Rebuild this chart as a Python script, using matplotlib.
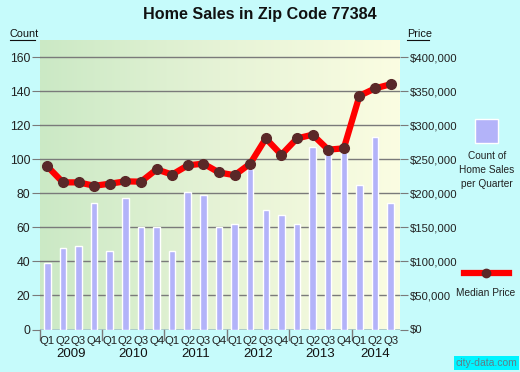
import numpy as np
import matplotlib
matplotlib.use("Agg")
import matplotlib.pyplot as plt
from matplotlib.colors import LinearSegmentedColormap

plt.rcParams['font.family'] = ['Liberation Sans', 'DejaVu Sans']

quarters = ["Q1", "Q2", "Q3", "Q4", "Q1", "Q2", "Q3", "Q4", "Q1", "Q2", "Q3", "Q4",
            "Q1", "Q2", "Q3", "Q4", "Q1", "Q2", "Q3", "Q4", "Q1", "Q2", "Q3"]
years = ["2009", "2010", "2011", "2012", "2013", "2014"]
counts = [39, 48, 49, 74, 46, 77, 60, 60, 46, 81, 79, 60, 62, 94, 70, 67, 62,
          107, 105, 104, 85, 113, 74]
prices = [239500, 216000, 216000, 211000, 214000, 217500, 217000, 235000, 227500,
          241000, 243500, 230500, 226500, 243500, 280500, 256500, 280500, 286000,
          264000, 266000, 343000, 354000, 360000]

BG = "#C6FBFB"
W, H = 520, 372
fig = plt.figure(figsize=(5.2, 3.72), dpi=100, facecolor=BG)
ax = fig.add_axes([40/W, 1 - 329.5/H, 360/W, 289.5/H])
ax.set_facecolor(BG)

n = len(counts)
x = np.arange(n)
xmin, xmax = -0.47, n - 0.4
ymax = 170
ax.set_xlim(xmin, xmax)
ax.set_ylim(0, ymax)

# gradient background
cmap = LinearSegmentedColormap.from_list("g", ["#CBE9C5", "#E6F3D6", "#FBFDE2"])
grad = np.linspace(0, 1, 256).reshape(1, -1)
ax.imshow(grad, extent=[xmin, xmax, 0, ymax], aspect='auto', cmap=cmap, zorder=0)

# grid
for v in range(0, 161, 20):
    ax.axhline(v, color="#7a7a7a", lw=1.0, zorder=1)

ax.bar(x, counts, width=0.42, color="#B3B3F9", edgecolor="white", linewidth=1.0, zorder=2)

ax2 = ax.twinx()
ax2.set_ylim(0, ymax * 2500)
ax2.plot(x, prices, color="#FF0000", lw=4.5, solid_capstyle='round', zorder=3)
ax2.plot(x, prices, 'o', color="#5A2828", markersize=7, zorder=4)

for a in (ax, ax2):
    for s in a.spines.values():
        s.set_visible(False)

FS = 8.2
ax.set_yticks(range(0, 161, 20))
ax.tick_params(axis='y', length=6, color="#7a7a7a", labelsize=FS + 0.6, labelcolor="#222222", pad=1)
ax2.set_yticks(range(0, 400001, 50000))
ax2.set_yticklabels(["$0"] + ["${:,}".format(v) for v in range(50000, 400001, 50000)])
ax2.tick_params(axis='y', length=6, color="#7a7a7a", labelsize=FS, labelcolor="#222222", pad=1)

# x axis: quarter labels
ax.set_xticks(x)
ax.set_xticklabels(quarters)
ax.tick_params(axis='x', length=0, labelsize=FS, labelcolor="#222222", pad=5)
ax.axhline(0, color="#7a7a7a", lw=1.0, zorder=1)
# year separator ticks
for b in range(0, n + 1, 4):
    ax.plot([b - 0.5, b - 0.5], [0, -6], color="#7a7a7a", lw=1.0, clip_on=False, zorder=1)
for i, yr in enumerate(years):
    start = i * 4
    end = min(start + 3, n - 1)
    ax.text((start + end) / 2, -14.3, yr, ha='center', va='center', fontsize=9.5,
            color="#111111", clip_on=False)

fig.text(0.5, 1 - 14/H, "Home Sales in Zip Code 77384", ha='center', va='center',
         fontsize=11.6, fontweight='bold', color="#111111")
fig.text(10/W, 1 - 34/H, "Count", fontsize=7.8, ha='left', va='center', color="#111111")
fig.add_artist(plt.Line2D([10/W, 35/W], [1 - 40/H, 1 - 40/H], color="#111111", lw=0.8))
fig.text(407/W, 1 - 34/H, "Price", fontsize=7.8, ha='left', va='center', color="#111111")
fig.add_artist(plt.Line2D([407/W, 429/W], [1 - 40/H, 1 - 40/H], color="#111111", lw=0.8))

# legend
fig.patches.append(plt.Rectangle((475/W, 1 - 143/H), 23/W, 24/H, transform=fig.transFigure,
                                 facecolor="#B3B3F9", edgecolor="white", lw=1))
fig.text(487/W, 1 - 170/H, "Count of\nHome Sales\nper Quarter", ha='center', va='center',
         fontsize=7.3, color="#222222", linespacing=1.45)
fig.add_artist(plt.Line2D([464/W, 509/W], [1 - 272.5/H, 1 - 272.5/H], color="#FF0000", lw=4.5))
fig.add_artist(plt.Line2D([486/W], [1 - 272.5/H], marker='o', color="#5A2828", markersize=6))
fig.text(486/W, 1 - 292.5/H, "Median Price", ha='center', va='center', fontsize=7.3, color="#222222")
fig.text(517/W, 1 - 363/H, "city-data.com", ha='right', va='center', fontsize=7.5,
         color="#5d7f8a",
         bbox=dict(boxstyle='square,pad=0.15', facecolor="#00F4FF", edgecolor='none'))

fig.savefig("out.png", dpi=100, facecolor=BG)
